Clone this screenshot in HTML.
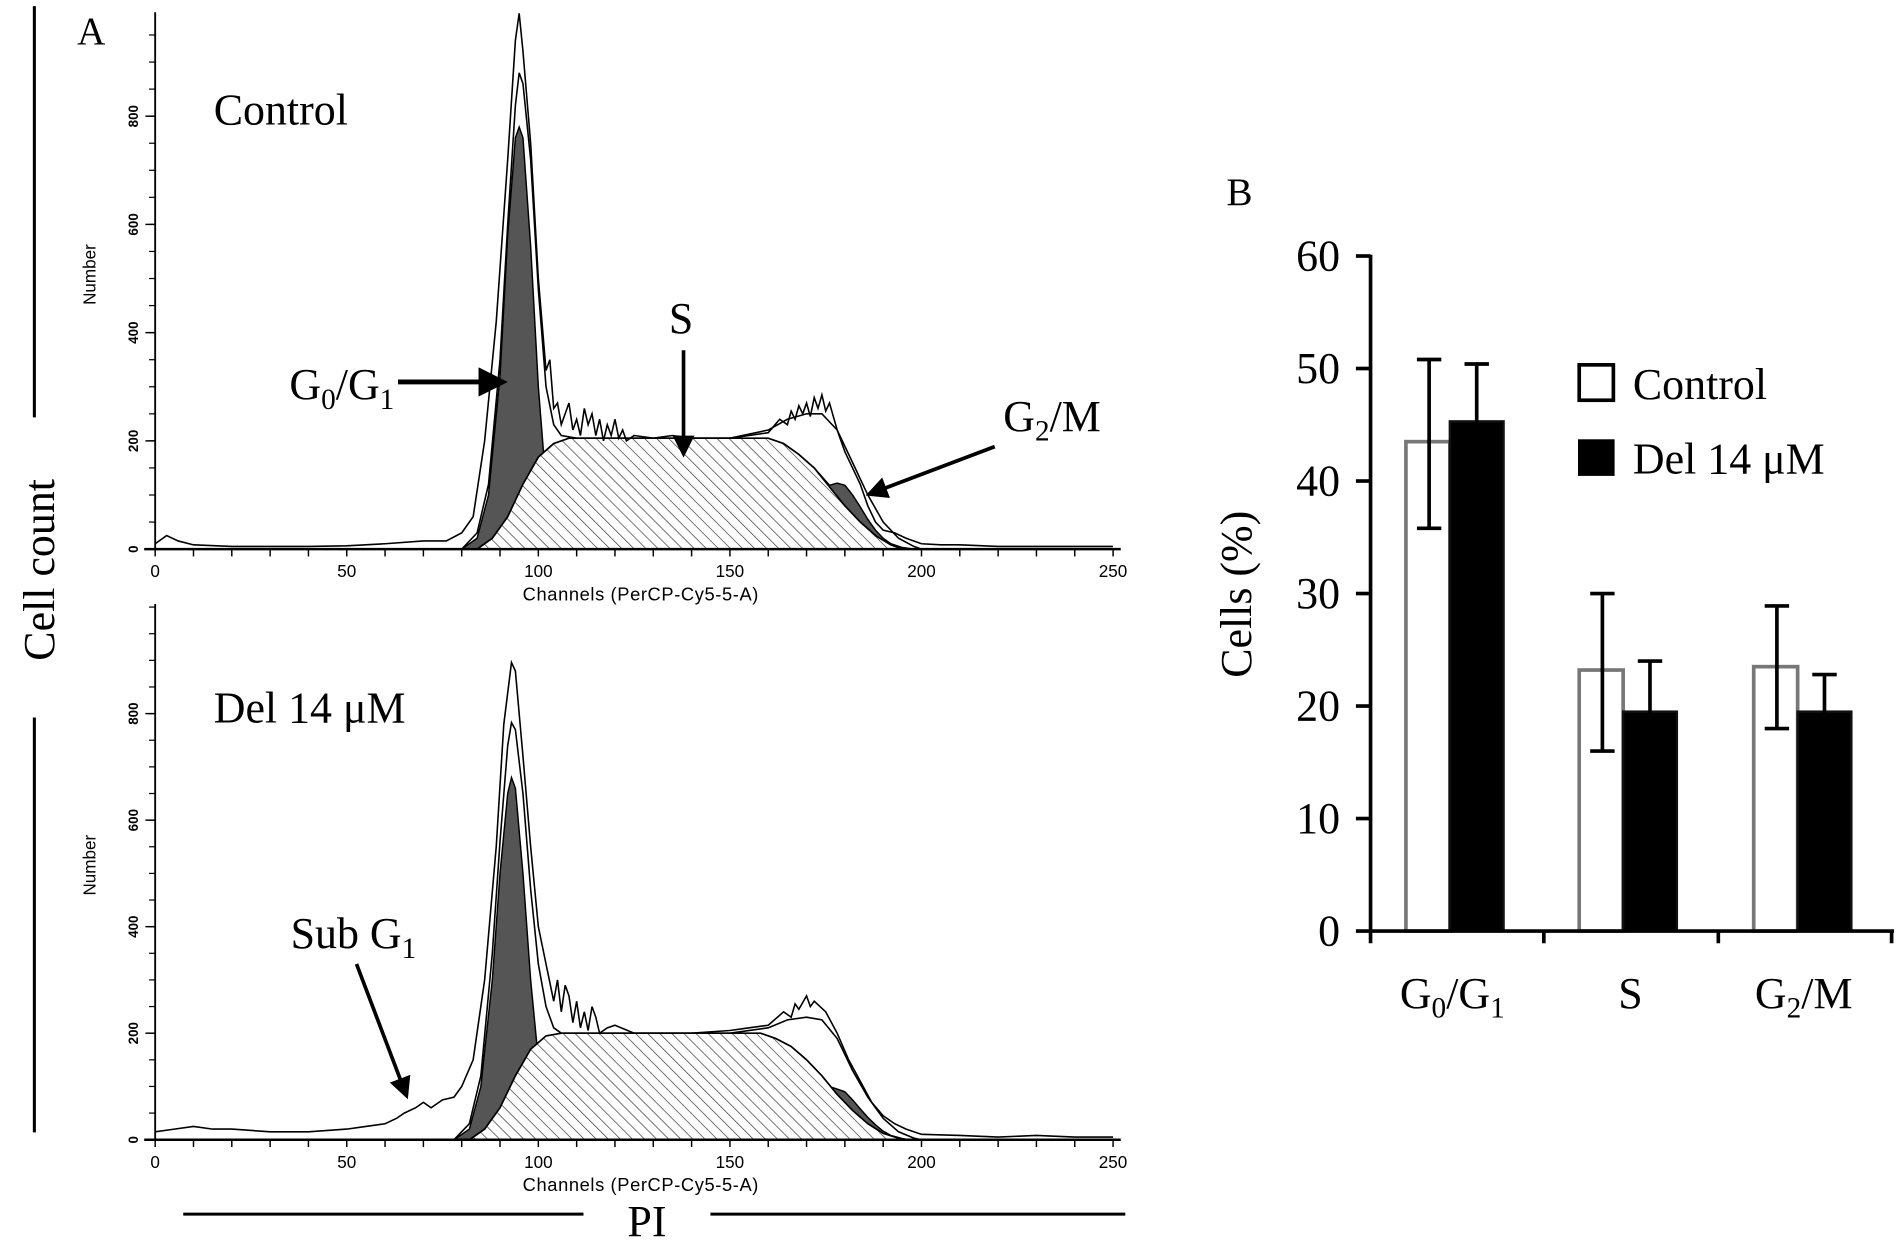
<!DOCTYPE html>
<html><head><meta charset="utf-8"><style>
html,body{margin:0;padding:0;background:#fff;}
svg{display:block;}
text{font-family:"Liberation Serif",serif;fill:#000;}
.sans{font-family:"Liberation Sans",sans-serif;}
</style></head><body>
<svg id="fig" width="1904" height="1241" viewBox="0 0 1560 1017" xmlns="http://www.w3.org/2000/svg">
<defs>
<pattern id="hatch" patternUnits="userSpaceOnUse" width="7" height="7" patternTransform="rotate(-45)">
<rect width="7" height="7" fill="#fff"/><line x1="0" y1="0" x2="0" y2="7" stroke="#333" stroke-width="1.1"/>
</pattern>
</defs>
<g id="panelA"></g>
<g id="panelB"></g>
</svg>
<script>
// ---------- Panel A data (channel, count) ----------
const topRawCh=[0,3,6,10,20,30,40,50,60,70,76,80,83,86,89,92,94,95,96,98,100,102,103,104,105,106,107,108,109,110,111,112,113,114,115,116,117,118,119,120,121,122,123,125,130,135,140,150,155,160,163,165,166,167,168,169,170,171,172,173,174,175,176,178,180,182,184,186,188,190,193,196,200,205,210,220,230,240,250];
const topRaw=[10,25,15,8,5,5,5,6,10,15,15,30,60,200,420,720,940,990,920,750,500,330,350,260,270,230,250,270,220,240,210,260,230,250,210,240,200,230,210,240,205,220,200,210,205,210,205,205,210,215,240,230,255,240,265,250,270,245,280,260,285,255,270,220,180,150,120,80,50,35,30,20,10,8,8,5,5,5,5];
const topFitCh=[80,84,87,90,92,94,95,96,98,100,102,104,106,110,150,160,165,170,174,178,182,186,190,194,198,200];
const topFit=[0,30,120,350,600,820,880,860,720,480,300,230,210,205,205,220,240,250,250,220,160,100,50,20,5,0];
const topG1Ch=[80,84,87,90,92,94,95,96,98,100,102,103,104];
const topG1=[0,20,100,320,580,760,780,760,560,300,120,50,0];
const topSCh=[84,88,92,96,100,104,108,160,164,168,172,176,180,184,188,192,195];
const topS=[0,20,60,120,170,195,205,205,195,175,150,115,80,50,25,8,0];
const topG2Ch=[172,176,178,180,182,184,186,188,190,192,195,198];
const topG2=[150,118,122,118,100,78,55,35,20,10,3,0];

const botRawCh=[0,5,10,15,20,30,40,50,55,60,63,65,68,70,72,75,78,80,83,86,89,91,93,94,96,98,100,102,104,105,106,107,108,109,110,111,112,113,114,115,116,118,120,125,130,140,150,155,160,164,166,167,168,170,171,172,175,178,181,184,187,190,193,196,200,210,220,230,240,250];
const botRaw=[15,20,25,20,20,15,15,20,25,30,40,50,60,70,60,75,80,100,150,300,550,780,896,880,720,550,400,330,260,300,240,290,270,220,260,210,240,205,250,230,200,210,215,200,200,200,205,210,215,240,230,255,245,270,250,260,240,200,150,110,70,45,30,20,10,8,5,8,5,5];
const botFitCh=[78,82,85,88,90,92,93,94,96,98,100,102,104,106,150,160,165,170,174,178,182,186,190,194,198,200];
const botFit=[0,30,120,350,560,740,783,770,650,470,330,250,210,200,200,210,225,230,225,190,130,80,40,15,3,0];
const botG1Ch=[78,82,85,88,90,92,93,94,96,98,100,102,103];
const botG1=[0,20,100,300,500,650,680,660,500,300,150,40,0];
const botSCh=[82,86,90,94,98,102,106,158,162,166,170,174,178,182,186,190,194,196];
const botS=[0,20,60,120,170,195,200,200,190,175,150,120,85,55,30,12,3,0];
const botG2Ch=[172,176,178,180,182,184,186,188,190,192,195,197];
const botG2=[135,100,95,90,75,58,42,28,16,8,2,0];

const xTicks=[0,50,100,150,200,250];
const yTicks=[0,200,400,600,800];

// ---------- Panel B data ----------
const categories=["G0/G1","S","G2/M"];
const controlVals=[43.5,23.2,23.5];
const controlErrLo=[35.8,16.0,18.0];
const controlErrHi=[50.8,30.0,28.9];
const delVals=[45.3,19.5,19.5];
const delErrLo=[40.5,15.0,16.0];
const delErrHi=[50.4,24.0,22.8];
const bTicks=[0,10,20,30,40,50,60];

const NS="http://www.w3.org/2000/svg";
function mk(tag,attrs,parent,txt){const e=document.createElementNS(NS,tag);for(const k in attrs)e.setAttribute(k,attrs[k]);if(txt!==undefined)e.textContent=txt;parent.appendChild(e);return e;}

const A=document.getElementById('panelA');
const xA=ch=>127+ch*3.14;

function histogram(base,k,top,raw,rawCh,fit,fitCh,g1,g1Ch,s,sCh,g2,g2Ch,name){
  const yA=c=>base-c*k;
  const g=mk('g',{},A);
  
  
  const poly=(chs,vals)=>chs.map((c,i)=>xA(c).toFixed(1)+','+yA(vals[i]).toFixed(1));
  const area=(chs,vals)=>'M'+xA(chs[0])+','+base+' L'+poly(chs,vals).join(' L')+' L'+xA(chs[chs.length-1])+','+base+' Z';
  let e;
  e=mk('path',{d:area(g1Ch,g1),fill:'#555',stroke:'#000','stroke-width':1.2},g);
  
  e=mk('path',{d:area(g2Ch,g2),fill:'#555',stroke:'#000','stroke-width':1.2},g);
  
  e=mk('path',{d:area(sCh,s),fill:'url(#hatch)',stroke:'#000','stroke-width':1.4},g);
  
  e=mk('polyline',{points:poly(fitCh,fit).join(' '),fill:'none',stroke:'#000','stroke-width':1.3},g);
  
  e=mk('polyline',{points:poly(rawCh,raw).join(' '),fill:'none',stroke:'#000','stroke-width':1.3},g);
  
  e=mk('line',{x1:127,y1:top,x2:127,y2:base,stroke:'#000','stroke-width':1.5},g);
  
  e=mk('line',{x1:118,y1:base,x2:xA(252),y2:base,stroke:'#000','stroke-width':2},g);
  
  for(let c=0;c<=250;c+=10){mk('line',{x1:xA(c),y1:base,x2:xA(c),y2:base+6,stroke:'#000','stroke-width':1.2},g);}
  for(let v=0;v*k<=base-top;v+=50){mk('line',{x1:122,y1:yA(v),x2:127,y2:yA(v),stroke:'#000','stroke-width':1},g);}
  xTicks.forEach(t=>{e=mk('text',{x:xA(t),y:base+23,'font-size':14,'text-anchor':'middle',class:'sans'},g,String(t));
    });
  yTicks.forEach(t=>{mk('line',{x1:119,y1:yA(t),x2:127,y2:yA(t),stroke:'#000','stroke-width':1.2},g);
    e=mk('text',{x:0,y:0,'font-size':11,'font-weight':'bold','text-anchor':'middle',class:'sans',transform:`translate(113,${yA(t)}) rotate(-90)`},g,String(t));
    });
  e=mk('text',{x:525,y:base+42,'font-size':15,'text-anchor':'middle',class:'sans','letter-spacing':'0.5'},g,'Channels (PerCP-Cy5-5-A)');
  
  e=mk('text',{x:0,y:0,'font-size':14,'text-anchor':'middle',class:'sans',transform:`translate(78,${base-225}) rotate(-90)`},g,'Number');
  
}
histogram(450,0.4435,10,topRaw,topRawCh,topFit,topFitCh,topG1,topG1Ch,topS,topSCh,topG2,topG2Ch,'control-histogram');
histogram(934,0.4365,495,botRaw,botRawCh,botFit,botFitCh,botG1,botG1Ch,botS,botSCh,botG2,botG2Ch,'del-histogram');

// Panel B
const B=document.getElementById('panelB');
const bx0=1123,by0=763,bpu=9.22;
const yB=v=>by0-v*bpu;
const groupX=[1123,1265,1408,1550];
const barW=42;
function gx(i){return groupX[i]+29;}
categories.forEach((c,i)=>{
  const x0=gx(i);
  let e=mk('rect',{x:x0,y:yB(controlVals[i]),width:barW-6,height:controlVals[i]*bpu,fill:'#fff',stroke:'#777','stroke-width':3},B);
  
  e=mk('rect',{x:x0+barW-6,y:yB(delVals[i]),width:barW+2,height:delVals[i]*bpu,fill:'#000',stroke:'#111','stroke-width':2},B);
  
  [[x0+19,controlErrLo[i],controlErrHi[i],'control'],[x0+barW+16,delErrLo[i],delErrHi[i],'del']].forEach(([ex,lo,hi,n])=>{
    const eg=mk('g',{stroke:'#000','stroke-width':3},B);
    
    mk('line',{x1:ex,y1:yB(lo),x2:ex,y2:yB(hi)},eg);
    mk('line',{x1:ex-10,y1:yB(hi),x2:ex+10,y2:yB(hi)},eg);
    mk('line',{x1:ex-10,y1:yB(lo),x2:ex+10,y2:yB(lo)},eg);
  });
});
let ax=mk('line',{x1:bx0,y1:yB(60)-1,x2:bx0,y2:by0+1,stroke:'#000','stroke-width':3},B);

ax=mk('line',{x1:bx0,y1:by0,x2:1552,y2:by0,stroke:'#000','stroke-width':3},B);

groupX.forEach(x=>mk('line',{x1:x,y1:by0,x2:x,y2:by0+10,stroke:'#000','stroke-width':3},B));
bTicks.forEach(t=>{mk('line',{x1:bx0-12,y1:yB(t),x2:bx0,y2:yB(t),stroke:'#000','stroke-width':3},B);
  const e=mk('text',{x:1098,y:yB(t)+12,'font-size':36,'text-anchor':'end'},B,String(t));
  });
</script>
<svg style="position:absolute;left:0;top:0" width="1904" height="1241" viewBox="0 0 1560 1017" xmlns="http://www.w3.org/2000/svg">
<defs><marker id="ah2" markerWidth="6" markerHeight="6" refX="5" refY="3" orient="auto"><path d="M0,0 L6,3 L0,6 z" fill="#000"/></marker></defs>
<g font-family="Liberation Serif, serif" fill="#000">
<line x1="28" y1="5" x2="28" y2="342" stroke="#000" stroke-width="2.5"/>
<line x1="28" y1="588" x2="28" y2="928" stroke="#000" stroke-width="2.5"/>
<text font-size="36" text-anchor="middle" transform="translate(44,467) rotate(-90)">Cell count</text>
<text x="63" y="36" font-size="32">A</text>
<text x="175" y="102" font-size="36">Control</text>
<text x="175" y="592" font-size="36">Del 14 μM</text>
<line x1="150" y1="995" x2="478" y2="995" stroke="#000" stroke-width="2.5"/>
<line x1="582" y1="995" x2="922" y2="995" stroke="#000" stroke-width="2.5"/>
<text x="530" y="1013" font-size="36" text-anchor="middle">PI</text>
<text x="237" y="327" font-size="36">G<tspan font-size="24" dy="8">0</tspan><tspan dy="-8">/G</tspan><tspan font-size="24" dy="8">1</tspan></text>
<line x1="326" y1="313" x2="412" y2="313" stroke="#000" stroke-width="4" marker-end="url(#ah2)"/>
<text x="558" y="273" font-size="36" text-anchor="middle">S</text>
<line x1="560" y1="287" x2="560" y2="372" stroke="#000" stroke-width="3" marker-end="url(#ah2)"/>
<text x="822" y="353" font-size="36">G<tspan font-size="24" dy="8">2</tspan><tspan dy="-8">/M</tspan></text>
<line x1="815" y1="366" x2="712" y2="405" stroke="#000" stroke-width="3" marker-end="url(#ah2)"/>
<text x="238" y="777" font-size="36">Sub G<tspan font-size="24" dy="8">1</tspan></text>
<line x1="292" y1="790" x2="333" y2="898" stroke="#000" stroke-width="3" marker-end="url(#ah2)"/>
<text x="1005" y="168" font-size="32">B</text>
<text font-size="36" text-anchor="middle" transform="translate(1025,487) rotate(-90)">Cells (%)</text>
<rect x="1294" y="299" width="28" height="29" fill="#fff" stroke="#000" stroke-width="3"/>
<text x="1338" y="327" font-size="36">Control</text>
<rect x="1293" y="360" width="30" height="30" fill="#000"/>
<text x="1338" y="388" font-size="36">Del 14 μM</text>
<text x="1190" y="826" font-size="36" text-anchor="middle">G<tspan font-size="24" dy="8">0</tspan><tspan dy="-8">/G</tspan><tspan font-size="24" dy="8">1</tspan></text>
<text x="1336" y="826" font-size="36" text-anchor="middle">S</text>
<text x="1478" y="826" font-size="36" text-anchor="middle">G<tspan font-size="24" dy="8">2</tspan><tspan dy="-8">/M</tspan></text>
</g>
</svg>
</body></html>
